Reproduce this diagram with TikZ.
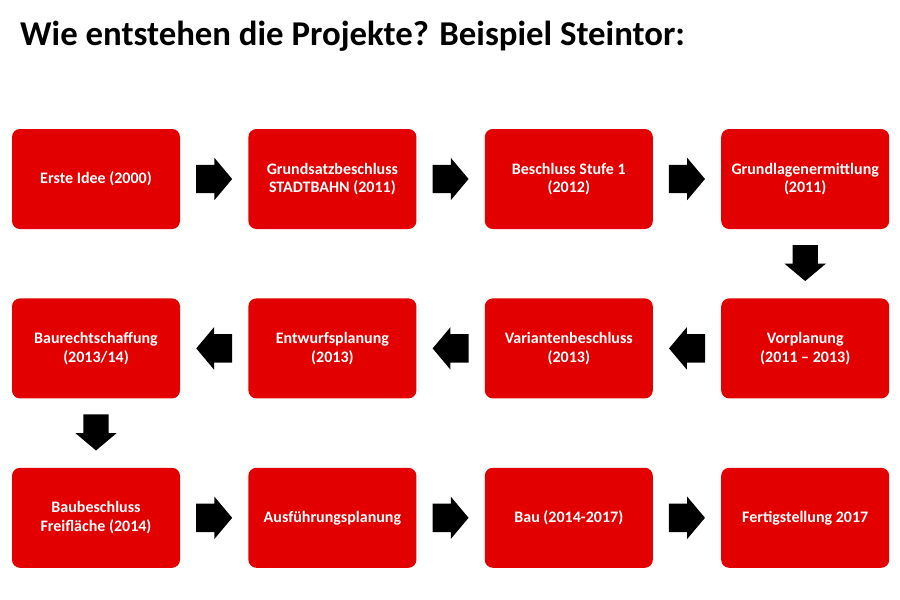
\documentclass[tikz,border=0pt]{standalone}
\usepackage{fontspec}
\setmainfont{Carlito}
\usetikzlibrary{positioning, shapes.arrows}
\definecolor{boxred}{RGB}{226,0,0}

\begin{document}
\begin{tikzpicture}[
    x=1pt, y=-1pt,
    node distance=69pt and 68pt,
    step box/.style={fill=boxred, rounded corners=8pt, align=center,
                     minimum width=168pt, minimum height=100pt, inner sep=0pt,
                     text=white, font=\fontsize{16}{18.5}\selectfont\bfseries},
    blk/.style={single arrow, fill=black, draw=none,
                minimum height=36pt, single arrow tip angle=100},
    rblk/.style={blk, inner xsep=0pt, inner ysep=14pt, single arrow head extend=7pt,
                 shape border rotate=0, xshift=-6pt},
    lblk/.style={blk, inner xsep=0pt, inner ysep=14pt, single arrow head extend=7pt,
                 shape border rotate=180, xshift=6pt},
    dblk/.style={blk, inner xsep=12.5pt, inner ysep=0pt, single arrow head extend=8pt,
                 shape border rotate=270, yshift=6pt}]
  \useasboundingbox (0,0) rectangle (900,600);
  \node[anchor=base west, inner sep=0pt, font=\fontsize{34.8}{40}\selectfont\bfseries]
      (titel) at (20,45) {Wie entstehen die Projekte? Beispiel Steintor:};
  % --- erste Reihe ---
  \node[step box] (idee) at (96,179) {Erste Idee (2000)};
  \node[step box, right=of idee]  (grund) {Grundsatzbeschluss\\STADTBAHN (2011)};
  \node[step box, right=of grund] (stufe) {Beschluss Stufe 1\\(2012)};
  \node[step box, right=of stufe] (ermitt) {Grundlagenermittlung\\(2011)};
  % --- zweite Reihe (rueckwaerts) ---
  \node[step box, below=of ermitt] (vor)    {Vorplanung\\(2011 -- 2013)};
  \node[step box, left=of vor]     (var)    {Variantenbeschluss\\(2013)};
  \node[step box, left=of var]     (entw)   {Entwurfsplanung\\(2013)};
  \node[step box, left=of entw]    (recht)  {Baurechtschaffung\\(2013/14)};
  % --- dritte Reihe ---
  \node[step box, below=of recht]  (bbes)   {Baubeschluss\\Freifläche (2014)};
  \node[step box, right=of bbes]   (ausf)   {Ausführungsplanung};
  \node[step box, right=of ausf]   (bau)    {Bau (2014-2017)};
  \node[step box, right=of bau]    (fertig) {Fertigstellung 2017};

  \path (idee)   -- node[rblk]{} (grund);
  \path (grund)  -- node[rblk]{} (stufe);
  \path (stufe)  -- node[rblk]{} (ermitt);
  \path (ermitt) -- node[dblk]{} (vor);
  \path (vor)    -- node[lblk]{} (var);
  \path (var)    -- node[lblk]{} (entw);
  \path (entw)   -- node[lblk]{} (recht);
  \path (recht)  -- node[dblk]{} (bbes);
  \path (bbes)   -- node[rblk]{} (ausf);
  \path (ausf)   -- node[rblk]{} (bau);
  \path (bau)    -- node[rblk]{} (fertig);
\end{tikzpicture}
\end{document}
